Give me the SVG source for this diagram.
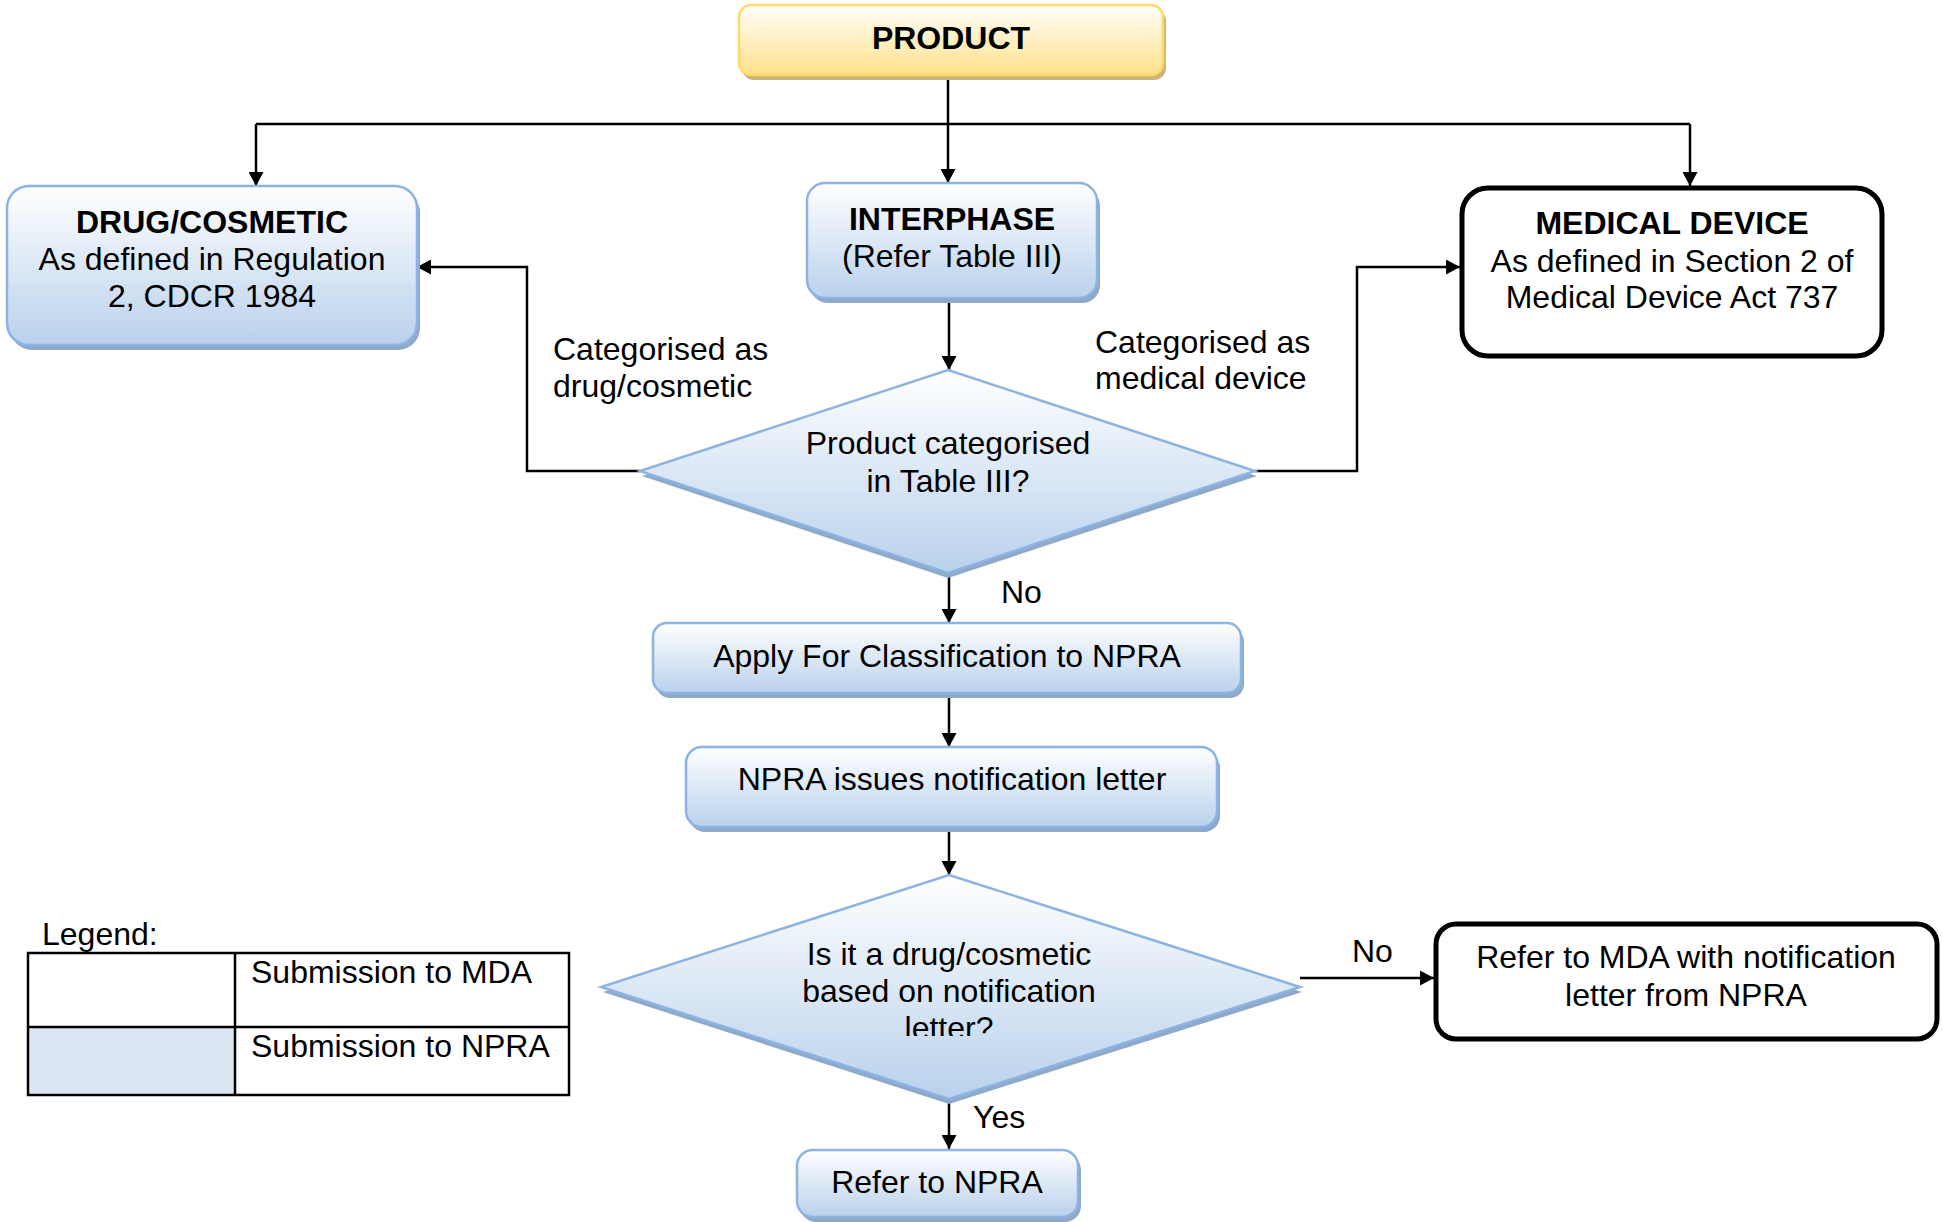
<svg xmlns="http://www.w3.org/2000/svg" width="1942" height="1222" viewBox="0 0 1942 1222">
<defs>
<linearGradient id="gBlue" x1="0" y1="0" x2="0" y2="1">
<stop offset="0" stop-color="#ffffff"/>
<stop offset="1" stop-color="#b9d1ec"/>
</linearGradient>
<linearGradient id="gGold" x1="0" y1="0" x2="0" y2="1">
<stop offset="0" stop-color="#fffefa"/>
<stop offset="1" stop-color="#ffe18a"/>
</linearGradient>
<marker id="arr" viewBox="0 0 14 15" refX="14" refY="7.5" markerWidth="14" markerHeight="15" markerUnits="userSpaceOnUse" orient="auto">
<path d="M0,0 L14,7.5 L0,15 z" fill="#000"/>
</marker>
<clipPath id="clipD2"><rect x="580" y="860" width="740" height="176"/></clipPath>
</defs>
<style>
text{font-family:"Liberation Sans",Arial,sans-serif;font-size:32px;fill:#000}
.c{text-anchor:middle}
.b{font-weight:bold}
.blue{fill:url(#gBlue);stroke:#8db3e2;stroke-width:2.5}
.shadow{fill:#8fa9c9}
.gold{fill:url(#gGold);stroke:#ffd966;stroke-width:2.5}
.gshadow{fill:#c8b47c}
.mda{fill:#ffffff;stroke:#000;stroke-width:5}
.conn{fill:none;stroke:#000;stroke-width:2.5}
.leg{fill:none;stroke:#000;stroke-width:2.5}
</style>
<rect width="1942" height="1222" fill="#ffffff"/>

<g id="connectors">
<path class="conn" d="M948,79 L948,183" marker-end="url(#arr)"/>
<path class="conn" d="M256,124 L1690,124"/>
<path class="conn" d="M256,124 L256,186" marker-end="url(#arr)"/>
<path class="conn" d="M1690,124 L1690,186" marker-end="url(#arr)"/>
<path class="conn" d="M949,302 L949,370" marker-end="url(#arr)"/>
<path class="conn" d="M640,471 L527,471 L527,267 L417,267" marker-end="url(#arr)"/>
<path class="conn" d="M1255,471 L1357,471 L1357,267 L1460,267" marker-end="url(#arr)"/>
<path class="conn" d="M949,576 L949,623" marker-end="url(#arr)"/>
<path class="conn" d="M949,697 L949,747" marker-end="url(#arr)"/>
<path class="conn" d="M949,831 L949,875" marker-end="url(#arr)"/>
<path class="conn" d="M1300,978 L1434,978" marker-end="url(#arr)"/>
<path class="conn" d="M949,1102 L949,1149" marker-end="url(#arr)"/>
</g>

<g id="labels">
<text x="553" y="360">Categorised as</text>
<text x="553" y="397">drug/cosmetic</text>
<text x="1095" y="353">Categorised as</text>
<text x="1095" y="389">medical device</text>
<text x="1001" y="603">No</text>
<text x="1352" y="962">No</text>
<text x="973" y="1128">Yes</text>
</g>

<g id="product">
<rect class="gshadow" x="742" y="9" width="424" height="71" rx="12"/>
<rect class="gold" x="739" y="5" width="424" height="70" rx="12"/>
<text class="c b" x="951" y="49">PRODUCT</text>
</g>

<g id="drug-cosmetic">
<rect class="shadow" x="10" y="191" width="410" height="159" rx="22"/>
<rect class="blue" x="7" y="186" width="410" height="159" rx="22"/>
<text class="c b" x="212" y="233">DRUG/COSMETIC</text>
<text class="c" x="212" y="270">As defined in Regulation</text>
<text class="c" x="212" y="307">2, CDCR 1984</text>
</g>

<g id="interphase">
<rect class="shadow" x="810" y="188" width="290" height="115" rx="18"/>
<rect class="blue" x="807" y="183" width="290" height="115" rx="18"/>
<text class="c b" x="952" y="230">INTERPHASE</text>
<text class="c" x="952" y="267">(Refer Table III)</text>
</g>

<g id="medical-device">
<rect class="mda" x="1462" y="188" width="420" height="168" rx="26"/>
<text class="c b" x="1672" y="234">MEDICAL DEVICE</text>
<text class="c" x="1672" y="272">As defined in Section 2 of</text>
<text class="c" x="1672" y="308">Medical Device Act 737</text>
</g>

<g id="decision-table">
<polygon class="shadow" points="948,375 1257,476 948,578 642,476"/>
<polygon class="blue" points="948,370 1255,471 948,573 640,471"/>
<text class="c" x="948" y="454">Product categorised</text>
<text class="c" x="948" y="492">in Table III?</text>
</g>

<g id="apply">
<rect class="shadow" x="656" y="628" width="588" height="70" rx="14"/>
<rect class="blue" x="653" y="623" width="588" height="70" rx="14"/>
<text class="c" x="947" y="667">Apply For Classification to NPRA</text>
</g>

<g id="npra-letter">
<rect class="shadow" x="689" y="752" width="531" height="80" rx="16"/>
<rect class="blue" x="686" y="747" width="531" height="80" rx="16"/>
<text class="c" x="952" y="790">NPRA issues notification letter</text>
</g>

<g id="decision-letter">
<polygon class="shadow" points="949,880 1302,992 949,1104 603,992"/>
<polygon class="blue" points="949,875 1300,987 949,1099 601,987"/>
<g clip-path="url(#clipD2)">
<text class="c" x="949" y="965">Is it a drug/cosmetic</text>
<text class="c" x="949" y="1002">based on notification</text>
<text class="c" x="949" y="1039">letter?</text>
</g>
</g>

<g id="refer-mda">
<rect class="mda" x="1436" y="924" width="501" height="115" rx="20"/>
<text class="c" x="1686" y="968">Refer to MDA with notification</text>
<text class="c" x="1686" y="1006">letter from NPRA</text>
</g>

<g id="refer-npra">
<rect class="shadow" x="800" y="1154" width="281" height="68" rx="16"/>
<rect class="blue" x="797" y="1150" width="281" height="67" rx="16"/>
<text class="c" x="937" y="1193">Refer to NPRA</text>
</g>

<g id="legend">
<text x="42" y="945">Legend:</text>
<rect x="28" y="1027" width="207" height="68" fill="#dce6f2"/>
<rect class="leg" x="28" y="953" width="541" height="142"/>
<line class="leg" x1="235" y1="953" x2="235" y2="1095"/>
<line class="leg" x1="28" y1="1027" x2="569" y2="1027"/>
<text x="251" y="983">Submission to MDA</text>
<text x="251" y="1057">Submission to NPRA</text>
</g>
</svg>
